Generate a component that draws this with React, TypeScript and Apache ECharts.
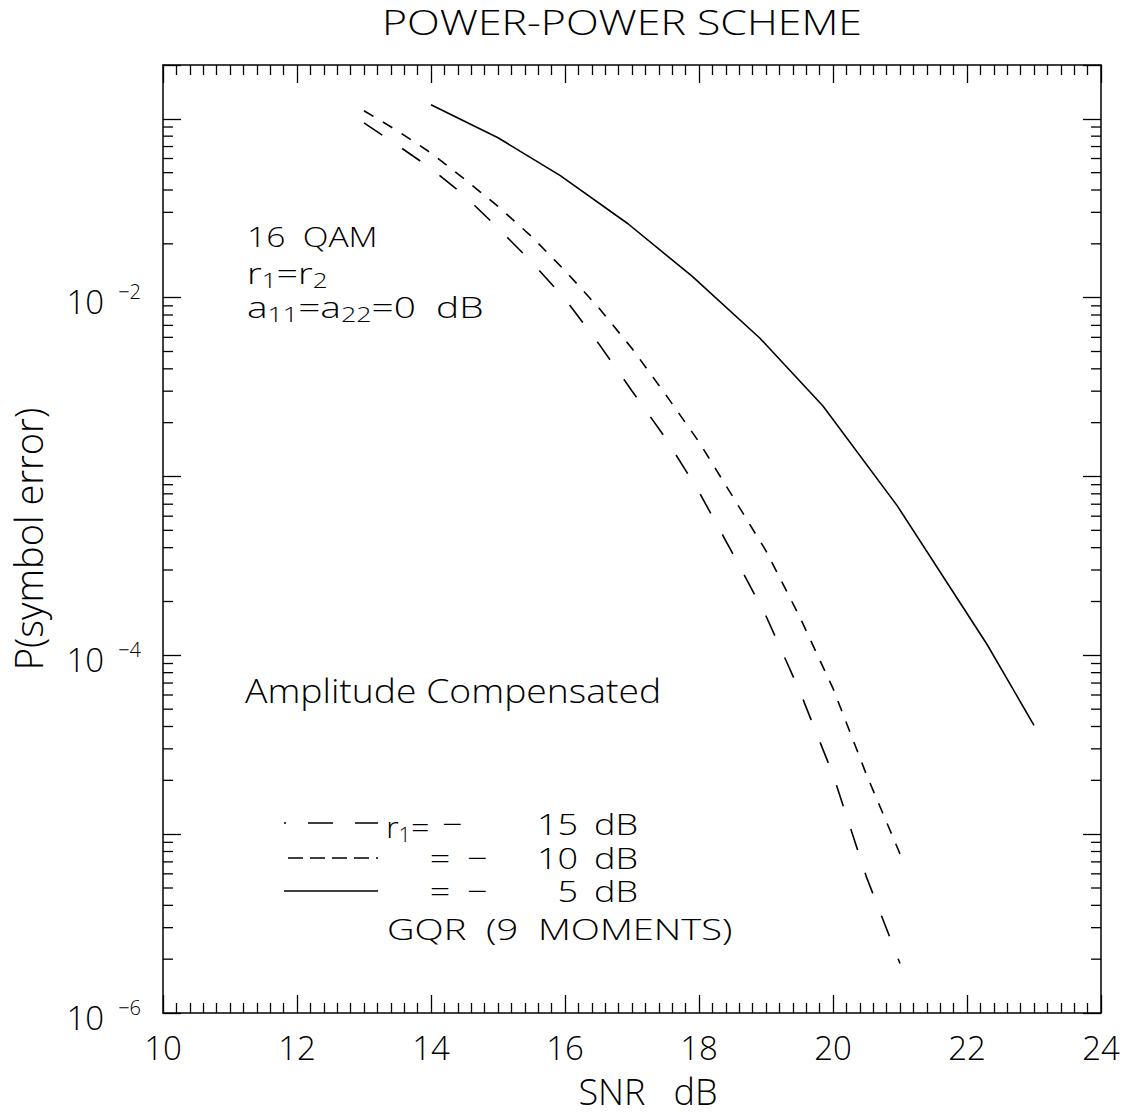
import React, { useEffect, useRef } from "react";
import * as echarts from "echarts";

// ---- data ----
const X_MIN = 10;
const X_MAX = 24;
const X_STEP = 2;
const Y_MIN = 1e-6;
const Y_MAX = 0.2;
const yLabelExps = [-6, -4, -2];
const yDecades = [-6, -5, -4, -3, -2, -1];
const yMinorMults = [2, 3, 4, 5, 6, 7, 8, 9];

// r1 = -15 dB (long dashes)
const snrLong = [13, 13.5, 14, 14.5, 15, 15.5, 16, 16.5, 17, 17.5, 18, 18.5, 19, 19.5, 20, 20.5, 21];
const pLong = [0.095, 0.0711, 0.0528, 0.0372, 0.0245, 0.01585, 9.84e-3, 5.55e-3, 3.01e-3, 1.64e-3, 8.2e-4, 3.73e-4, 1.66e-4, 6.35e-5, 2.15e-5, 5.75e-6, 1.89e-6];

// r1 = -10 dB (short dashes)
const snrShort = [13, 13.5, 14, 14.5, 15, 15.5, 16, 16.5, 17, 17.5, 18, 18.5, 19, 19.5, 20, 20.5, 21];
const pShort = [0.111, 0.0857, 0.0644, 0.046, 0.0324, 0.022, 0.01416, 8.8e-3, 5.2e-3, 2.88e-3, 1.56e-3, 7.76e-4, 3.84e-4, 1.65e-4, 6.53e-5, 2.15e-5, 7.76e-6];

// r1 = -5 dB (solid)
const snrSolid = [14, 15, 15.93, 16.94, 17.9, 18.91, 19.85, 20.96, 22.3, 23];
const pSolid = [0.12, 0.0784, 0.0481, 0.0259, 0.01315, 5.93e-3, 2.48e-3, 6.85e-4, 1.15e-4, 4.06e-5];

const FONT = "'Open Sans', 'DejaVu Sans', sans-serif";
const FW = 300;
const SX = 1.2;

const zip = (xs: number[], ys: number[]) => xs.map((x, i) => [x, ys[i]]);

function txt(text: string, x: number, y: number, size: number, align: string = "left", rich?: any, sx: number = SX) {
  return {
    type: "text",
    x,
    y,
    scaleX: sx,
    silent: true,
    style: {
      text,
      fontSize: size,
      fontFamily: FONT,
      fontWeight: FW,
      fill: "#000",
      align,
      verticalAlign: "middle",
      rich,
    },
  };
}

function subRich(size: number) {
  const s = Math.round(size * 0.68);
  return {
    m: { fontSize: size, lineHeight: size + 6, fontFamily: FONT, fontWeight: FW, fill: "#000" },
    u: { fontSize: s, lineHeight: s, verticalAlign: "bottom", fontFamily: FONT, fontWeight: FW, fill: "#000" },
  };
}

export default function App() {
  const ref = useRef<HTMLDivElement>(null);
  useEffect(() => {
    document.body.style.margin = "0";
    if (!ref.current) return;
    const chart = echarts.init(ref.current, undefined, { renderer: "svg" });

    const minorVals: number[] = [];
    yDecades.forEach((d) => {
      yMinorMults.forEach((m) => {
        const v = m * Math.pow(10, d);
        if (v < Y_MAX * 0.999) minorVals.push(v);
      });
    });

    const axisLine = { show: true, lineStyle: { color: "#000", width: 1.5 } };
    const xAxisBase = {
      type: "value",
      min: X_MIN,
      max: X_MAX,
      interval: X_STEP,
      splitLine: { show: false },
      axisLine,
      axisTick: { show: true, inside: true, length: 18, lineStyle: { color: "#000", width: 1.3 } },
      minorTick: { show: true, splitNumber: 10, length: 10, lineStyle: { color: "#000", width: 1.3 } },
    };
    const yAxisBase = {
      type: "log",
      logBase: 10,
      min: Y_MIN,
      max: Y_MAX,
      splitNumber: 6,
      splitLine: { show: false },
      axisLine,
      axisTick: { show: true, inside: true, length: 18, lineStyle: { color: "#000", width: 1.3 } },
      minorTick: { show: false },
    };

    const option: any = {
      animation: false,
      backgroundColor: "#fff",
      grid: { left: 163, top: 65, right: 32, bottom: 97, containLabel: false },
      xAxis: [
        {
          ...xAxisBase,
          position: "bottom",
          name: "SNR   dB",
          nameLocation: "middle",
          nameGap: 60,
          nameTextStyle: { fontSize: 36, fontFamily: FONT, fontWeight: FW, color: "#000", padding: [0, 0, 0, 32] },
          axisLabel: { show: true, margin: 18, fontSize: 33, fontFamily: FONT, fontWeight: FW, color: "#000" },
        },
        { ...xAxisBase, position: "top", axisLabel: { show: false } },
      ],
      yAxis: [
        {
          ...yAxisBase,
          position: "left",
          name: "P(symbol error)",
          nameLocation: "middle",
          nameGap: 116,
          nameTextStyle: { fontSize: 38, fontFamily: FONT, fontWeight: FW, color: "#000" },
          axisLabel: {
            show: true,
            margin: 22,
            padding: [8, 0, 0, 0],
            formatter: (v: number) => {
              const lg = Math.log10(v);
              const e = Math.round(lg);
              if (Math.abs(lg - e) > 1e-6) return "";
              if (!yLabelExps.includes(e)) return "";
              return `{b|10}{s|\u2212${Math.abs(e)}}`;
            },
            rich: {
              b: { fontSize: 33, lineHeight: 40, fontFamily: FONT, fontWeight: FW, color: "#000" },
              s: { fontSize: 20, lineHeight: 16, verticalAlign: "top", padding: [0, 0, 0, 14], fontFamily: FONT, fontWeight: FW, color: "#000" },
            },
          },
        },
        { ...yAxisBase, position: "right", axisLabel: { show: false } },
      ],
      series: [
        {
          type: "custom",
          name: "minor",
          xAxisIndex: 0,
          yAxisIndex: 0,
          silent: true,
          z: 5,
          data: minorVals.map((v) => [X_MIN, v]),
          renderItem: (params: any, api: any) => {
            const v = api.value(1);
            const l = api.coord([X_MIN, v]);
            const r = api.coord([X_MAX, v]);
            const st = { stroke: "#000", lineWidth: 1.3 };
            return {
              type: "group",
              children: [
                { type: "line", shape: { x1: l[0], y1: l[1], x2: l[0] + 10, y2: l[1] }, style: st },
                { type: "line", shape: { x1: r[0] - 10, y1: r[1], x2: r[0], y2: r[1] }, style: st },
              ],
            };
          },
        },
        {
          type: "line",
          name: "r1 = -15 dB",
          data: zip(snrLong, pLong),
          symbol: "none",
          lineStyle: { color: "#000", width: 1.6, type: [22, 24] },
        },
        {
          type: "line",
          name: "r1 = -10 dB",
          data: zip(snrShort, pShort),
          symbol: "none",
          lineStyle: { color: "#000", width: 1.6, type: [11, 11] },
        },
        {
          type: "line",
          name: "r1 = -5 dB",
          data: zip(snrSolid, pSolid),
          symbol: "none",
          lineStyle: { color: "#000", width: 1.6, type: "solid" },
        },
      ],
      graphic: [
        txt("POWER-POWER SCHEME", 622, 22, 34, "center", undefined, 1.26),
        txt("16  QAM", 247, 236, 28),
        txt("{m|r}{u|1}{m|=r}{u|2}", 247, 273, 29, "left", subRich(29), 1.3),
        txt("{m|a}{u|11}{m|=a}{u|22}{m|=0  dB}", 247, 307, 29, "left", subRich(29), 1.34),
        txt("Amplitude Compensated", 245, 690, 33, "left", undefined, 1.13),
        // legend
        { type: "line", silent: true, shape: { x1: 284, y1: 823, x2: 378, y2: 823 }, style: { stroke: "#000", lineWidth: 1.5, lineDash: [25, 22], lineDashOffset: 23 } },
        { type: "line", silent: true, shape: { x1: 288, y1: 858, x2: 378, y2: 858 }, style: { stroke: "#000", lineWidth: 1.5, lineDash: [15, 7] } },
        { type: "line", silent: true, shape: { x1: 284, y1: 891, x2: 378, y2: 891 }, style: { stroke: "#000", lineWidth: 1.5 } },
        txt("{m|r}{u|1}{m|=}", 386, 826, 30, "left", subRich(30), 1.08),
        txt("\u2212", 452, 824, 30, "center"),
        txt("15", 578, 824, 30, "right"),
        txt("dB", 594, 824, 30, "left"),
        txt("=", 440, 858, 30, "center"),
        txt("\u2212", 477, 858, 30, "center"),
        txt("10", 578, 858, 30, "right"),
        txt("dB", 594, 858, 30, "left"),
        txt("=", 440, 891, 30, "center"),
        txt("\u2212", 477, 891, 30, "center"),
        txt("5", 578, 891, 30, "right"),
        txt("dB", 594, 891, 30, "left"),
        txt("GQR  (9  MOMENTS)", 387, 928, 30, "left", undefined, 1.27),
      ],
    };

    chart.setOption(option);
    return () => chart.dispose();
  }, []);

  return <div ref={ref} style={{ width: 1133, height: 1114 }} />;
}
